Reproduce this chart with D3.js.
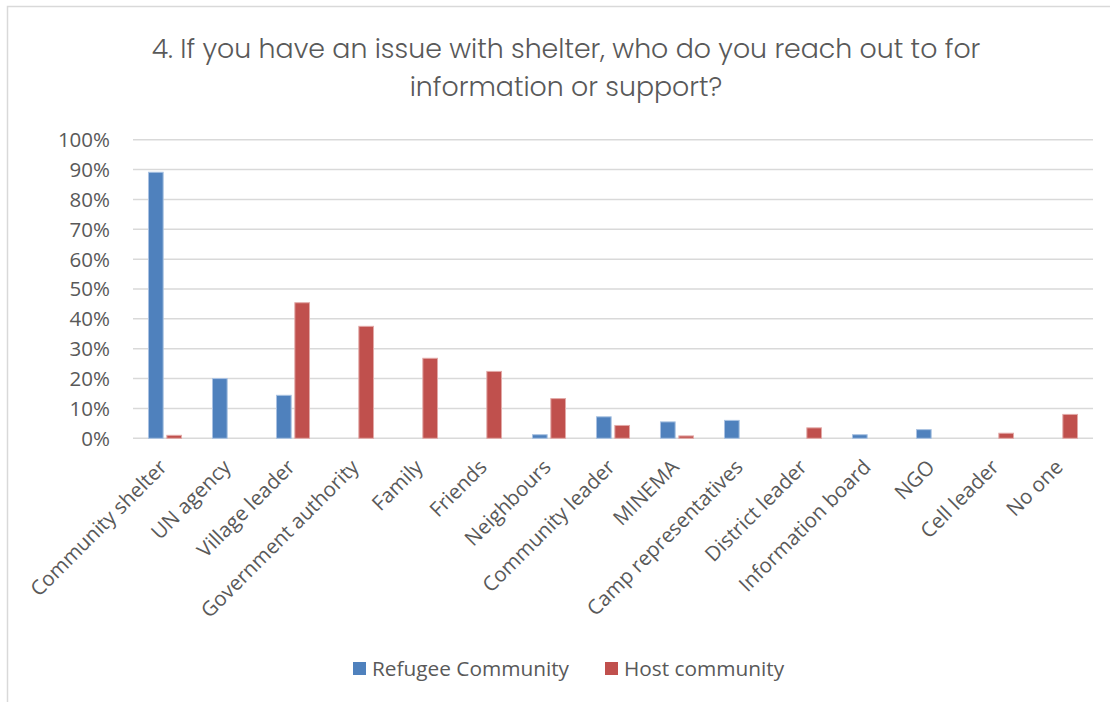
<!DOCTYPE html>
<html>
<head>
<meta charset="utf-8">
<script src="https://cdn.jsdelivr.net/npm/d3@7"></script>
<style>
  html, body { margin: 0; padding: 0; background: #fff; }
  svg { display: block; }
</style>
</head>
<body>
<svg id="chart" width="1110" height="702"></svg>
<script>
// Who respondents reach out to about shelter issues, by community (share of respondents)
const categories = [
  "Community shelter", "UN agency", "Village leader", "Government authority",
  "Family", "Friends", "Neighbours", "Community leader", "MINEMA",
  "Camp representatives", "District leader", "Information board", "NGO",
  "Cell leader", "No one"
];
const seriesNames = ["Refugee Community", "Host community"];
const refugeeValues = [0.891, 0.200, 0.144, 0, 0, 0, 0.012, 0.072, 0.055, 0.060, 0, 0.012, 0.029, 0, 0];
const hostValues    = [0.010, 0, 0.454, 0.375, 0.268, 0.224, 0.133, 0.043, 0.008, 0, 0.035, 0, 0, 0.017, 0.080];
const yTicks = [0, 0.1, 0.2, 0.3, 0.4, 0.5, 0.6, 0.7, 0.8, 0.9, 1.0];
const titleLines = [
  "4. If you have an issue with shelter, who do you reach out to for",
  "information or support?"
];

const colors = { "Refugee Community": "#4F81BD", "Host community": "#C0504D" };
const edgeColors = { "Refugee Community": "#A9C2E2", "Host community": "#E2A9A7" };

const svg = d3.select("#chart");
const textFont = "'Open Sans', 'Noto Sans', sans-serif";

// chart frame
svg.append("path")
  .attr("d", "M7.5,710 V6.5 H1112")
  .attr("fill", "none")
  .attr("stroke", "#D9D9D9")
  .attr("stroke-width", 1.5);

// title
const title = svg.append("g").attr("font-family", "Poppins, 'Open Sans', Lato, sans-serif")
  .attr("fill", "#595959");
title.selectAll("text").data(titleLines).join("text")
  .attr("x", 566)
  .attr("y", (d, i) => 58 + i * 38)
  .attr("text-anchor", "middle")
  .attr("font-size", 26.8)
  .attr("font-weight", 300)
  .text(d => d);

const plot = { left: 133, right: 1093, top: 139.7, bottom: 438.3 };

const x0 = d3.scaleBand()
  .domain(categories)
  .range([plot.left, plot.right])
  .paddingInner(0.484)
  .paddingOuter(0.242);

const x1 = d3.scaleBand()
  .domain(seriesNames)
  .range([0, x0.bandwidth()])
  .paddingInner(0.2);

const y = d3.scaleLinear().domain([0, 1]).range([plot.bottom, plot.top]);

// gridlines
svg.append("g")
  .selectAll("line").data(yTicks).join("line")
  .attr("x1", plot.left).attr("x2", plot.right)
  .attr("y1", d => y(d)).attr("y2", d => y(d))
  .attr("stroke", "#D9D9D9")
  .attr("stroke-width", 1.5);

// y axis labels
const yAxis = d3.axisLeft(y).tickValues(yTicks).tickFormat(d3.format(".0%")).tickSize(0).tickPadding(0);
const yg = svg.append("g").attr("transform", `translate(${plot.left - 23},0)`).call(yAxis);
yg.select(".domain").remove();
yg.selectAll("text")
  .attr("font-family", textFont)
  .attr("font-size", 20.5)
  .attr("fill", "#595959")
  .attr("dy", "0.34em");

// bars
const rows = categories.map((c, i) => ({
  category: c,
  values: [
    { series: seriesNames[0], value: refugeeValues[i] },
    { series: seriesNames[1], value: hostValues[i] }
  ]
}));

const groups = svg.append("g").selectAll("g").data(rows).join("g")
  .attr("transform", d => `translate(${x0(d.category)},0)`);

groups.selectAll("rect")
  .data(d => d.values.filter(v => v.value > 0))
  .join("rect")
  .attr("x", d => x1(d.series))
  .attr("width", x1.bandwidth())
  .attr("y", d => y(d.value))
  .attr("height", d => y(0) - y(d.value))
  .attr("fill", d => colors[d.series])
  .attr("stroke", d => edgeColors[d.series])
  .attr("stroke-width", 1);

// category labels
const xAxis = d3.axisBottom(x0).tickSize(0).tickPadding(0);
const xg = svg.append("g").attr("transform", `translate(0,${plot.bottom})`).call(xAxis);
xg.select(".domain").remove();
xg.selectAll(".tick text")
  .attr("font-family", textFont)
  .attr("font-size", 20.5)
  .attr("fill", "#595959")
  .attr("text-anchor", "end")
  .attr("transform", "translate(-2,25) rotate(-45)")
  .attr("dy", "0.35em")
  .attr("y", 0);

// legend
const legendItems = [
  { name: seriesNames[0], x: 353 },
  { name: seriesNames[1], x: 605 }
];
const legend = svg.append("g");
const li = legend.selectAll("g").data(legendItems).join("g")
  .attr("transform", d => `translate(${d.x},662)`);
li.append("rect")
  .attr("width", 13).attr("height", 13)
  .attr("fill", d => colors[d.name]);
li.append("text")
  .attr("x", 19).attr("y", 13.5)
  .attr("font-family", textFont)
  .attr("font-size", 20.8)
  .attr("fill", "#595959")
  .text(d => d.name);
</script>
</body>
</html>
